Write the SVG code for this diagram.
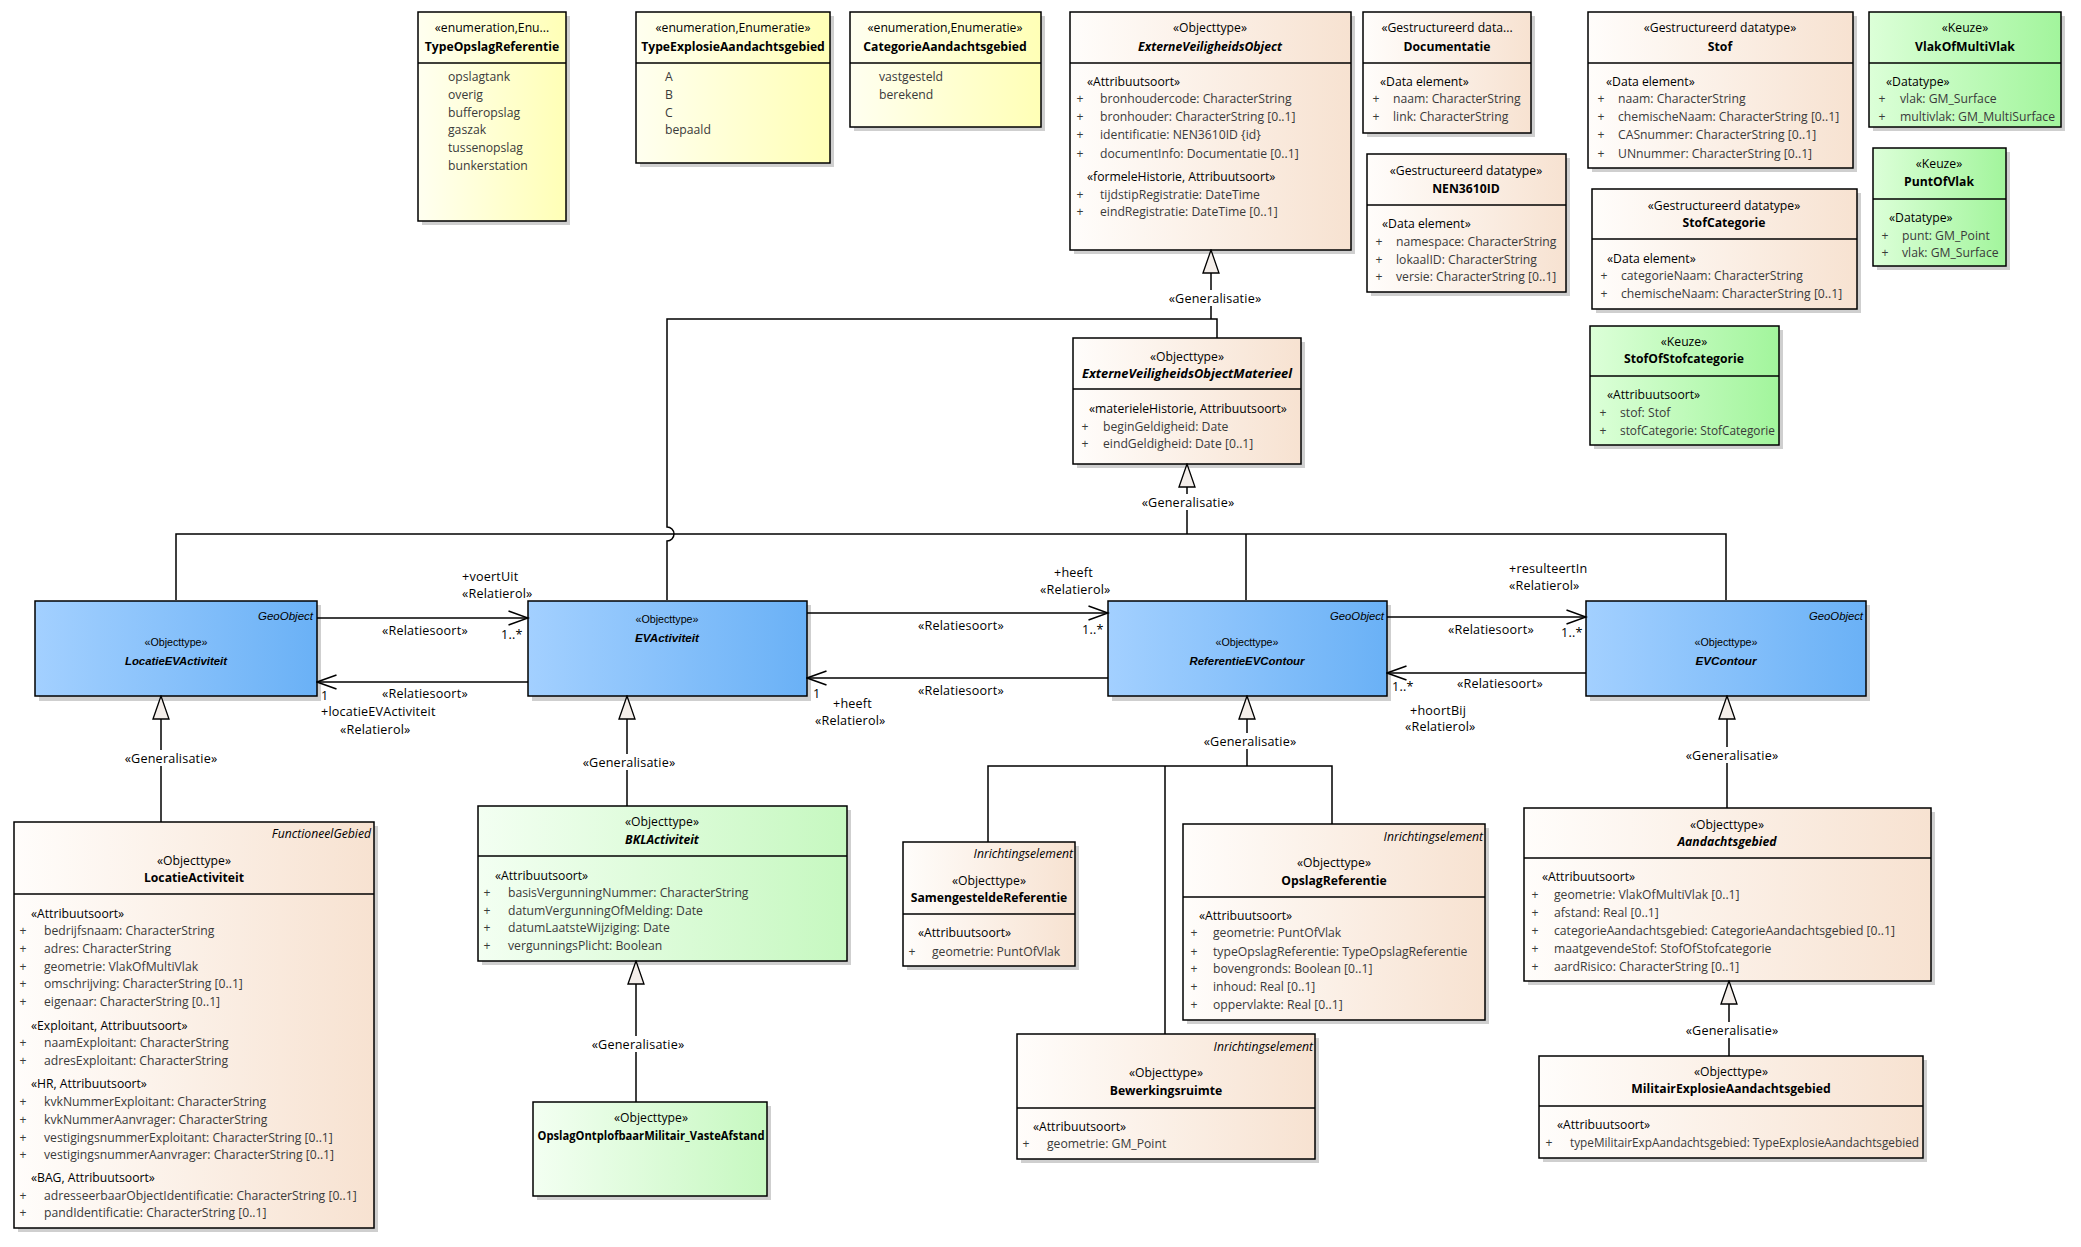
<svg xmlns="http://www.w3.org/2000/svg" width="2081" height="1247" viewBox="0 0 2081 1247">
<defs>
<linearGradient id="gTan" x1="0" y1="0" x2="1" y2="0"><stop offset="0" stop-color="#fffdfb"/><stop offset="1" stop-color="#f7e2d1"/></linearGradient>
<linearGradient id="gYel" x1="0" y1="0" x2="1" y2="0"><stop offset="0" stop-color="#fffff0"/><stop offset="1" stop-color="#ffffb6"/></linearGradient>
<linearGradient id="gGrn" x1="0" y1="0" x2="1" y2="0"><stop offset="0" stop-color="#dcffd8"/><stop offset="1" stop-color="#a2f59c"/></linearGradient>
<linearGradient id="gLGrn" x1="0" y1="0" x2="1" y2="0"><stop offset="0" stop-color="#f3fff2"/><stop offset="1" stop-color="#c6f8c0"/></linearGradient>
<linearGradient id="gBlue" x1="0" y1="0" x2="1" y2="0"><stop offset="0" stop-color="#a3d0ff"/><stop offset="1" stop-color="#6ab1f6"/></linearGradient>
<marker id="open" markerUnits="userSpaceOnUse" markerWidth="22" markerHeight="16" viewBox="0 0 22 16" refX="20.5" refY="8" orient="auto"><path d="M1,1 L20.5,8 L1,15" fill="none" stroke="#000" stroke-width="1.5"/></marker>
<marker id="gen" markerUnits="userSpaceOnUse" markerWidth="26" markerHeight="20" viewBox="0 0 26 20" refX="24.5" refY="10" orient="auto"><path d="M1.5,2 L24.5,10 L1.5,18 Z" fill="#f4eeea" stroke="#000" stroke-width="1.3"/></marker>
<style>
text{font-family:"Open Sans","Noto Sans","DejaVu Sans",sans-serif;font-size:12.2px;fill:#000}
.box{stroke:#000;stroke-width:1.5}
.sh{fill:#cfcfcf}
.hd{stroke:#000;stroke-width:1.5}
.c{text-anchor:middle}
.nm{font-weight:bold;text-anchor:middle}
.ni{font-weight:bold;font-style:italic;text-anchor:middle}
.it{fill:#3a3a3a}
.pl{fill:#3a3a3a;text-anchor:middle}
.tg{font-style:italic;text-anchor:end}
.bl{font-family:"Liberation Sans",Arial,sans-serif;font-size:11.5px}
.lb{font-size:12.6px;letter-spacing:0.2px}
.ln{fill:none;stroke:#000;stroke-width:1.5}
.bg{fill:#fff}
</style>
</defs>
<rect x="0" y="0" width="2081" height="1247" fill="#fff"/>

<!-- Enumerations -->
<g id="TypeOpslagReferentie">
<rect class="sh" x="422" y="16" width="148" height="209"/>
<rect class="box" x="418" y="12" width="148" height="209" fill="url(#gYel)"/>
<line class="hd" x1="418" y1="63" x2="566" y2="63"/>
<text class="c" x="492" y="32">«enumeration,Enu...</text>
<text class="nm" x="492" y="51">TypeOpslagReferentie</text>
<text class="it" x="448" y="81">opslagtank</text>
<text class="it" x="448" y="99">overig</text>
<text class="it" x="448" y="117">bufferopslag</text>
<text class="it" x="448" y="134">gaszak</text>
<text class="it" x="448" y="152">tussenopslag</text>
<text class="it" x="448" y="170">bunkerstation</text>
</g>
<g id="TypeExplosieAandachtsgebied">
<rect class="sh" x="640" y="16" width="194" height="151"/>
<rect class="box" x="636" y="12" width="194" height="151" fill="url(#gYel)"/>
<line class="hd" x1="636" y1="63" x2="830" y2="63"/>
<text class="c" x="733" y="32">«enumeration,Enumeratie»</text>
<text class="nm" x="733" y="51">TypeExplosieAandachtsgebied</text>
<text class="it" x="665" y="81">A</text>
<text class="it" x="665" y="99">B</text>
<text class="it" x="665" y="117">C</text>
<text class="it" x="665" y="134">bepaald</text>
</g>
<g id="CategorieAandachtsgebied">
<rect class="sh" x="854" y="16" width="191" height="115"/>
<rect class="box" x="850" y="12" width="191" height="115" fill="url(#gYel)"/>
<line class="hd" x1="850" y1="63" x2="1041" y2="63"/>
<text class="c" x="945" y="32">«enumeration,Enumeratie»</text>
<text class="nm" x="945" y="51">CategorieAandachtsgebied</text>
<text class="it" x="879" y="81">vastgesteld</text>
<text class="it" x="879" y="99">berekend</text>
</g>

<!-- Top objecttype / datatypes -->
<g id="ExterneVeiligheidsObject">
<rect class="sh" x="1074" y="16" width="281" height="238"/>
<rect class="box" x="1070" y="12" width="281" height="238" fill="url(#gTan)"/>
<line class="hd" x1="1070" y1="63" x2="1351" y2="63"/>
<text class="c" x="1210" y="32">«Objecttype»</text>
<text class="ni" x="1210" y="51">ExterneVeiligheidsObject</text>
<text x="1087" y="86">«Attribuutsoort»</text>
<text class="pl" x="1080" y="103">+</text><text class="it" x="1100" y="103">bronhoudercode: CharacterString</text>
<text class="pl" x="1080" y="121">+</text><text class="it" x="1100" y="121">bronhouder: CharacterString [0..1]</text>
<text class="pl" x="1080" y="139">+</text><text class="it" x="1100" y="139">identificatie: NEN3610ID {id}</text>
<text class="pl" x="1080" y="158">+</text><text class="it" x="1100" y="158">documentInfo: Documentatie [0..1]</text>
<text x="1087" y="181">«formeleHistorie, Attribuutsoort»</text>
<text class="pl" x="1080" y="199">+</text><text class="it" x="1100" y="199">tijdstipRegistratie: DateTime</text>
<text class="pl" x="1080" y="216">+</text><text class="it" x="1100" y="216">eindRegistratie: DateTime [0..1]</text>
</g>
<g id="Documentatie">
<rect class="sh" x="1367" y="16" width="168" height="121"/>
<rect class="box" x="1363" y="12" width="168" height="121" fill="url(#gTan)"/>
<line class="hd" x1="1363" y1="63" x2="1531" y2="63"/>
<text class="c" x="1447" y="32">«Gestructureerd data...</text>
<text class="nm" x="1447" y="51">Documentatie</text>
<text x="1380" y="86">«Data element»</text>
<text class="pl" x="1376" y="103">+</text><text class="it" x="1393" y="103">naam: CharacterString</text>
<text class="pl" x="1376" y="121">+</text><text class="it" x="1393" y="121">link: CharacterString</text>
</g>
<g id="NEN3610ID">
<rect class="sh" x="1371" y="158" width="199" height="138"/>
<rect class="box" x="1367" y="154" width="199" height="138" fill="url(#gTan)"/>
<line class="hd" x1="1367" y1="205" x2="1566" y2="205"/>
<text class="c" x="1466" y="175">«Gestructureerd datatype»</text>
<text class="nm" x="1466" y="193">NEN3610ID</text>
<text x="1382" y="228">«Data element»</text>
<text class="pl" x="1379" y="246">+</text><text class="it" x="1396" y="246">namespace: CharacterString</text>
<text class="pl" x="1379" y="264">+</text><text class="it" x="1396" y="264">lokaalID: CharacterString</text>
<text class="pl" x="1379" y="281">+</text><text class="it" x="1396" y="281">versie: CharacterString [0..1]</text>
</g>
<g id="Stof">
<rect class="sh" x="1592" y="16" width="265" height="156"/>
<rect class="box" x="1588" y="12" width="265" height="156" fill="url(#gTan)"/>
<line class="hd" x1="1588" y1="63" x2="1853" y2="63"/>
<text class="c" x="1720" y="32">«Gestructureerd datatype»</text>
<text class="nm" x="1720" y="51">Stof</text>
<text x="1606" y="86">«Data element»</text>
<text class="pl" x="1601" y="103">+</text><text class="it" x="1618" y="103">naam: CharacterString</text>
<text class="pl" x="1601" y="121">+</text><text class="it" x="1618" y="121">chemischeNaam: CharacterString [0..1]</text>
<text class="pl" x="1601" y="139">+</text><text class="it" x="1618" y="139">CASnummer: CharacterString [0..1]</text>
<text class="pl" x="1601" y="158">+</text><text class="it" x="1618" y="158">UNnummer: CharacterString [0..1]</text>
</g>
<g id="VlakOfMultiVlak">
<rect class="sh" x="1873" y="16" width="192" height="115"/>
<rect class="box" x="1869" y="12" width="192" height="115" fill="url(#gGrn)"/>
<line class="hd" x1="1869" y1="63" x2="2061" y2="63"/>
<text class="c" x="1965" y="32">«Keuze»</text>
<text class="nm" x="1965" y="51">VlakOfMultiVlak</text>
<text x="1886" y="86">«Datatype»</text>
<text class="pl" x="1882" y="103">+</text><text class="it" x="1900" y="103">vlak: GM_Surface</text>
<text class="pl" x="1882" y="121">+</text><text class="it" x="1900" y="121" textLength="155" lengthAdjust="spacingAndGlyphs">multivlak: GM_MultiSurface</text>
</g>
<g id="PuntOfVlak">
<rect class="sh" x="1877" y="152" width="133" height="118"/>
<rect class="box" x="1873" y="148" width="133" height="118" fill="url(#gGrn)"/>
<line class="hd" x1="1873" y1="199" x2="2006" y2="199"/>
<text class="c" x="1939" y="168">«Keuze»</text>
<text class="nm" x="1939" y="186">PuntOfVlak</text>
<text x="1889" y="222">«Datatype»</text>
<text class="pl" x="1885" y="240">+</text><text class="it" x="1902" y="240">punt: GM_Point</text>
<text class="pl" x="1885" y="257">+</text><text class="it" x="1902" y="257">vlak: GM_Surface</text>
</g>
<g id="StofCategorie">
<rect class="sh" x="1596" y="193" width="265" height="120"/>
<rect class="box" x="1592" y="189" width="265" height="120" fill="url(#gTan)"/>
<line class="hd" x1="1592" y1="239" x2="1857" y2="239"/>
<text class="c" x="1724" y="210">«Gestructureerd datatype»</text>
<text class="nm" x="1724" y="227">StofCategorie</text>
<text x="1607" y="263">«Data element»</text>
<text class="pl" x="1604" y="280">+</text><text class="it" x="1621" y="280">categorieNaam: CharacterString</text>
<text class="pl" x="1604" y="298">+</text><text class="it" x="1621" y="298">chemischeNaam: CharacterString [0..1]</text>
</g>
<g id="StofOfStofcategorie">
<rect class="sh" x="1594" y="330" width="189" height="119"/>
<rect class="box" x="1590" y="326" width="189" height="119" fill="url(#gGrn)"/>
<line class="hd" x1="1590" y1="376" x2="1779" y2="376"/>
<text class="c" x="1684" y="346">«Keuze»</text>
<text class="nm" x="1684" y="363">StofOfStofcategorie</text>
<text x="1607" y="399">«Attribuutsoort»</text>
<text class="pl" x="1603" y="417">+</text><text class="it" x="1620" y="417">stof: Stof</text>
<text class="pl" x="1603" y="435">+</text><text class="it" x="1620" y="435" textLength="155" lengthAdjust="spacingAndGlyphs">stofCategorie: StofCategorie</text>
</g>
<g id="ExterneVeiligheidsObjectMaterieel">
<rect class="sh" x="1077" y="342" width="228" height="126"/>
<rect class="box" x="1073" y="338" width="228" height="126" fill="url(#gTan)"/>
<line class="hd" x1="1073" y1="389" x2="1301" y2="389"/>
<text class="c" x="1187" y="361">«Objecttype»</text>
<text class="ni" x="1187" y="378" textLength="210" lengthAdjust="spacingAndGlyphs">ExterneVeiligheidsObjectMaterieel</text>
<text x="1089" y="413">«materieleHistorie, Attribuutsoort»</text>
<text class="pl" x="1085" y="431">+</text><text class="it" x="1103" y="431">beginGeldigheid: Date</text>
<text class="pl" x="1085" y="448">+</text><text class="it" x="1103" y="448">eindGeldigheid: Date [0..1]</text>
</g>

<!-- Blue objecttypes -->
<g id="LocatieEVActiviteit">
<rect class="sh" x="39" y="605" width="282" height="96"/>
<rect class="box" x="35" y="601" width="282" height="95" fill="url(#gBlue)"/>
<text class="bl tg" x="313" y="620" textLength="55" lengthAdjust="spacingAndGlyphs">GeoObject</text>
<text class="bl c" x="176" y="646" textLength="63" lengthAdjust="spacingAndGlyphs">«Objecttype»</text>
<text class="bl ni" x="176" y="665" textLength="102" lengthAdjust="spacingAndGlyphs">LocatieEVActiviteit</text>
</g>
<g id="EVActiviteit">
<rect class="sh" x="532" y="605" width="279" height="96"/>
<rect class="box" x="528" y="601" width="279" height="95" fill="url(#gBlue)"/>
<text class="bl c" x="667" y="623" textLength="63" lengthAdjust="spacingAndGlyphs">«Objecttype»</text>
<text class="bl ni" x="667" y="642" textLength="64" lengthAdjust="spacingAndGlyphs">EVActiviteit</text>
</g>
<g id="ReferentieEVContour">
<rect class="sh" x="1112" y="605" width="279" height="96"/>
<rect class="box" x="1108" y="601" width="279" height="95" fill="url(#gBlue)"/>
<text class="bl tg" x="1384" y="620" textLength="54" lengthAdjust="spacingAndGlyphs">GeoObject</text>
<text class="bl c" x="1247" y="646" textLength="63" lengthAdjust="spacingAndGlyphs">«Objecttype»</text>
<text class="bl ni" x="1247" y="665" textLength="115" lengthAdjust="spacingAndGlyphs">ReferentieEVContour</text>
</g>
<g id="EVContour">
<rect class="sh" x="1590" y="605" width="280" height="96"/>
<rect class="box" x="1586" y="601" width="280" height="95" fill="url(#gBlue)"/>
<text class="bl tg" x="1863" y="620" textLength="54" lengthAdjust="spacingAndGlyphs">GeoObject</text>
<text class="bl c" x="1726" y="646" textLength="63" lengthAdjust="spacingAndGlyphs">«Objecttype»</text>
<text class="bl ni" x="1726" y="665" textLength="61" lengthAdjust="spacingAndGlyphs">EVContour</text>
</g>

<!-- Lower objecttypes -->
<g id="LocatieActiviteit">
<rect class="sh" x="18" y="826" width="360" height="406"/>
<rect class="box" x="14" y="822" width="360" height="406" fill="url(#gTan)"/>
<line class="hd" x1="14" y1="894" x2="374" y2="894"/>
<text class="tg" x="371" y="838">FunctioneelGebied</text>
<text class="c" x="194" y="865">«Objecttype»</text>
<text class="nm" x="194" y="882">LocatieActiviteit</text>
<text x="31" y="918">«Attribuutsoort»</text>
<text class="pl" x="23" y="935">+</text><text class="it" x="44" y="935">bedrijfsnaam: CharacterString</text>
<text class="pl" x="23" y="953">+</text><text class="it" x="44" y="953">adres: CharacterString</text>
<text class="pl" x="23" y="971">+</text><text class="it" x="44" y="971">geometrie: VlakOfMultiVlak</text>
<text class="pl" x="23" y="988">+</text><text class="it" x="44" y="988">omschrijving: CharacterString [0..1]</text>
<text class="pl" x="23" y="1006">+</text><text class="it" x="44" y="1006">eigenaar: CharacterString [0..1]</text>
<text x="31" y="1030">«Exploitant, Attribuutsoort»</text>
<text class="pl" x="23" y="1047">+</text><text class="it" x="44" y="1047">naamExploitant: CharacterString</text>
<text class="pl" x="23" y="1065">+</text><text class="it" x="44" y="1065">adresExploitant: CharacterString</text>
<text x="31" y="1088">«HR, Attribuutsoort»</text>
<text class="pl" x="23" y="1106">+</text><text class="it" x="44" y="1106">kvkNummerExploitant: CharacterString</text>
<text class="pl" x="23" y="1124">+</text><text class="it" x="44" y="1124">kvkNummerAanvrager: CharacterString</text>
<text class="pl" x="23" y="1142">+</text><text class="it" x="44" y="1142">vestigingsnummerExploitant: CharacterString [0..1]</text>
<text class="pl" x="23" y="1159">+</text><text class="it" x="44" y="1159">vestigingsnummerAanvrager: CharacterString [0..1]</text>
<text x="31" y="1182">«BAG, Attribuutsoort»</text>
<text class="pl" x="23" y="1200">+</text><text class="it" x="44" y="1200">adresseerbaarObjectIdentificatie: CharacterString [0..1]</text>
<text class="pl" x="23" y="1217">+</text><text class="it" x="44" y="1217">pandIdentificatie: CharacterString [0..1]</text>
</g>
<g id="BKLActiviteit">
<rect class="sh" x="482" y="810" width="369" height="155"/>
<rect class="box" x="478" y="806" width="369" height="155" fill="url(#gLGrn)"/>
<line class="hd" x1="478" y1="856" x2="847" y2="856"/>
<text class="c" x="662" y="826">«Objecttype»</text>
<text class="ni" x="662" y="844">BKLActiviteit</text>
<text x="495" y="880">«Attribuutsoort»</text>
<text class="pl" x="487" y="897">+</text><text class="it" x="508" y="897">basisVergunningNummer: CharacterString</text>
<text class="pl" x="487" y="915">+</text><text class="it" x="508" y="915">datumVergunningOfMelding: Date</text>
<text class="pl" x="487" y="932">+</text><text class="it" x="508" y="932">datumLaatsteWijziging: Date</text>
<text class="pl" x="487" y="950">+</text><text class="it" x="508" y="950">vergunningsPlicht: Boolean</text>
</g>
<g id="OpslagOntplofbaarMilitair_VasteAfstand">
<rect class="sh" x="537" y="1106" width="234" height="94"/>
<rect class="box" x="533" y="1102" width="234" height="94" fill="url(#gLGrn)"/>
<text class="c" x="651" y="1122">«Objecttype»</text>
<text class="nm" x="651" y="1140" textLength="227" lengthAdjust="spacingAndGlyphs">OpslagOntplofbaarMilitair_VasteAfstand</text>
</g>
<g id="SamengesteldeReferentie">
<rect class="sh" x="907" y="846" width="172" height="124"/>
<rect class="box" x="903" y="842" width="172" height="124" fill="url(#gTan)"/>
<line class="hd" x1="903" y1="914" x2="1075" y2="914"/>
<text class="tg" x="1073" y="858">Inrichtingselement</text>
<text class="c" x="989" y="885">«Objecttype»</text>
<text class="nm" x="989" y="902">SamengesteldeReferentie</text>
<text x="918" y="937">«Attribuutsoort»</text>
<text class="pl" x="912" y="956">+</text><text class="it" x="932" y="956">geometrie: PuntOfVlak</text>
</g>
<g id="OpslagReferentie">
<rect class="sh" x="1187" y="828" width="302" height="196"/>
<rect class="box" x="1183" y="824" width="302" height="196" fill="url(#gTan)"/>
<line class="hd" x1="1183" y1="897" x2="1485" y2="897"/>
<text class="tg" x="1483" y="841">Inrichtingselement</text>
<text class="c" x="1334" y="867">«Objecttype»</text>
<text class="nm" x="1334" y="885">OpslagReferentie</text>
<text x="1199" y="920">«Attribuutsoort»</text>
<text class="pl" x="1194" y="937">+</text><text class="it" x="1213" y="937">geometrie: PuntOfVlak</text>
<text class="pl" x="1194" y="956">+</text><text class="it" x="1213" y="956">typeOpslagReferentie: TypeOpslagReferentie</text>
<text class="pl" x="1194" y="973">+</text><text class="it" x="1213" y="973">bovengronds: Boolean [0..1]</text>
<text class="pl" x="1194" y="991">+</text><text class="it" x="1213" y="991">inhoud: Real [0..1]</text>
<text class="pl" x="1194" y="1009">+</text><text class="it" x="1213" y="1009">oppervlakte: Real [0..1]</text>
</g>
<g id="Bewerkingsruimte">
<rect class="sh" x="1021" y="1038" width="298" height="125"/>
<rect class="box" x="1017" y="1034" width="298" height="125" fill="url(#gTan)"/>
<line class="hd" x1="1017" y1="1108" x2="1315" y2="1108"/>
<text class="tg" x="1313" y="1051">Inrichtingselement</text>
<text class="c" x="1166" y="1077">«Objecttype»</text>
<text class="nm" x="1166" y="1095">Bewerkingsruimte</text>
<text x="1033" y="1131">«Attribuutsoort»</text>
<text class="pl" x="1026" y="1148">+</text><text class="it" x="1047" y="1148">geometrie: GM_Point</text>
</g>
<g id="Aandachtsgebied">
<rect class="sh" x="1528" y="812" width="407" height="173"/>
<rect class="box" x="1524" y="808" width="407" height="173" fill="url(#gTan)"/>
<line class="hd" x1="1524" y1="858" x2="1931" y2="858"/>
<text class="c" x="1727" y="829">«Objecttype»</text>
<text class="ni" x="1727" y="846">Aandachtsgebied</text>
<text x="1542" y="881">«Attribuutsoort»</text>
<text class="pl" x="1535" y="899">+</text><text class="it" x="1554" y="899">geometrie: VlakOfMultiVlak [0..1]</text>
<text class="pl" x="1535" y="917">+</text><text class="it" x="1554" y="917">afstand: Real [0..1]</text>
<text class="pl" x="1535" y="935">+</text><text class="it" x="1554" y="935">categorieAandachtsgebied: CategorieAandachtsgebied [0..1]</text>
<text class="pl" x="1535" y="953">+</text><text class="it" x="1554" y="953">maatgevendeStof: StofOfStofcategorie</text>
<text class="pl" x="1535" y="971">+</text><text class="it" x="1554" y="971">aardRisico: CharacterString [0..1]</text>
</g>
<g id="MilitairExplosieAandachtsgebied">
<rect class="sh" x="1543" y="1060" width="384" height="102"/>
<rect class="box" x="1539" y="1056" width="384" height="102" fill="url(#gTan)"/>
<line class="hd" x1="1539" y1="1106" x2="1923" y2="1106"/>
<text class="c" x="1731" y="1076">«Objecttype»</text>
<text class="nm" x="1731" y="1093">MilitairExplosieAandachtsgebied</text>
<text x="1557" y="1129">«Attribuutsoort»</text>
<text class="pl" x="1549" y="1147">+</text><text class="it" x="1570" y="1147" textLength="349" lengthAdjust="spacingAndGlyphs">typeMilitairExpAandachtsgebied: TypeExplosieAandachtsgebied</text>
</g>

<!-- Connectors -->
<g id="connectors">
<path class="ln" d="M1211,319 V250" marker-end="url(#gen)"/>
<path class="ln" d="M667,600 V541 a7,7 0 0 0 0,-14 V319 H1217 V338"/>
<rect class="bg" x="1170" y="290" width="90" height="16"/>
<text class="lb c" x="1215" y="303">«Generalisatie»</text>

<path class="ln" d="M1187,534 V464" marker-end="url(#gen)"/>
<path class="ln" d="M176,600 V534 H1726 V600 M1246,534 V600"/>
<rect class="bg" x="1143" y="494" width="90" height="16"/>
<text class="lb c" x="1188" y="507">«Generalisatie»</text>

<path class="ln" d="M161,822 V696" marker-end="url(#gen)"/>
<rect class="bg" x="126" y="750" width="90" height="16"/>
<text class="lb c" x="171" y="763">«Generalisatie»</text>

<path class="ln" d="M627,806 V696" marker-end="url(#gen)"/>
<rect class="bg" x="584" y="754" width="90" height="16"/>
<text class="lb c" x="629" y="767">«Generalisatie»</text>

<path class="ln" d="M636,1102 V961" marker-end="url(#gen)"/>
<rect class="bg" x="593" y="1036" width="90" height="16"/>
<text class="lb c" x="638" y="1049">«Generalisatie»</text>

<path class="ln" d="M1247,766 V696" marker-end="url(#gen)"/>
<path class="ln" d="M988,842 V766 H1332 V824 M1165,766 V1034"/>
<rect class="bg" x="1205" y="733" width="90" height="16"/>
<text class="lb c" x="1250" y="746">«Generalisatie»</text>

<path class="ln" d="M1727,808 V696" marker-end="url(#gen)"/>
<rect class="bg" x="1687" y="747" width="90" height="16"/>
<text class="lb c" x="1732" y="760">«Generalisatie»</text>

<path class="ln" d="M1729,1056 V981" marker-end="url(#gen)"/>
<rect class="bg" x="1687" y="1022" width="90" height="16"/>
<text class="lb c" x="1732" y="1035">«Generalisatie»</text>

<path class="ln" d="M317,618 H528" marker-end="url(#open)"/>
<text class="lb" x="462" y="581">+voertUit</text>
<text class="lb" x="462" y="598">«Relatierol»</text>
<text class="lb" x="382" y="635">«Relatiesoort»</text>
<text class="lb" x="501" y="639">1..*</text>

<path class="ln" d="M528,682 H317" marker-end="url(#open)"/>
<text class="lb" x="382" y="698">«Relatiesoort»</text>
<text class="lb" x="321" y="700">1</text>
<text class="lb" x="321" y="716">+locatieEVActiviteit</text>
<text class="lb" x="340" y="734">«Relatierol»</text>

<path class="ln" d="M807,613 H1108" marker-end="url(#open)"/>
<text class="lb" x="1054" y="577">+heeft</text>
<text class="lb" x="1040" y="594">«Relatierol»</text>
<text class="lb" x="918" y="630">«Relatiesoort»</text>
<text class="lb" x="1082" y="634">1..*</text>

<path class="ln" d="M1108,678 H807" marker-end="url(#open)"/>
<text class="lb" x="918" y="695">«Relatiesoort»</text>
<text class="lb" x="813" y="698">1</text>
<text class="lb" x="833" y="708">+heeft</text>
<text class="lb" x="815" y="725">«Relatierol»</text>

<path class="ln" d="M1387,617 H1586" marker-end="url(#open)"/>
<text class="lb" x="1509" y="573">+resulteertIn</text>
<text class="lb" x="1509" y="590">«Relatierol»</text>
<text class="lb" x="1448" y="634">«Relatiesoort»</text>
<text class="lb" x="1561" y="637">1..*</text>

<path class="ln" d="M1586,673 H1387" marker-end="url(#open)"/>
<text class="lb" x="1457" y="688">«Relatiesoort»</text>
<text class="lb" x="1392" y="691">1..*</text>
<text class="lb" x="1410" y="715">+hoortBij</text>
<text class="lb" x="1405" y="731">«Relatierol»</text>
</g>
</svg>
